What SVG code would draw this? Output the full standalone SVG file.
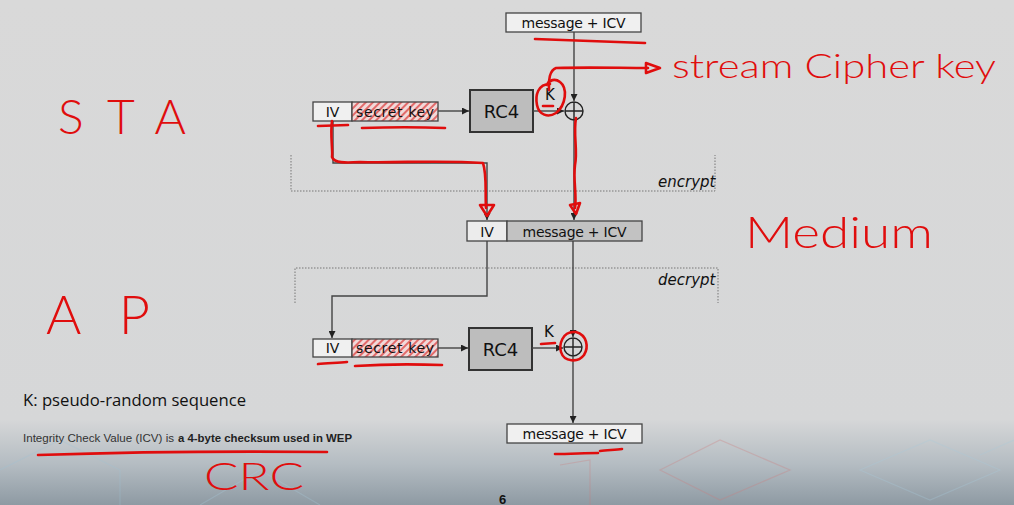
<svg xmlns="http://www.w3.org/2000/svg" width="1014" height="505" viewBox="0 0 1014 505">
<defs>
<linearGradient id="bg" x1="0" y1="0" x2="0" y2="1">
<stop offset="0" stop-color="#d9d9d9"/>
<stop offset="0.83" stop-color="#d6d7d8"/>
<stop offset="0.92" stop-color="#b4bcc2"/>
<stop offset="1" stop-color="#8e9aa3"/>
</linearGradient>
<pattern id="hatch" width="5" height="5" patternUnits="userSpaceOnUse" patternTransform="rotate(45)">
<rect width="5" height="5" fill="#f1d9d9"/>
<rect width="2" height="5" fill="#e26a6a"/>
</pattern>
<marker id="ah" viewBox="0 0 8 8" refX="8" refY="4" markerWidth="7" markerHeight="7" markerUnits="userSpaceOnUse" orient="auto">
<path d="M0,0 L8,4 L0,8 z" fill="#222"/>
</marker>
<style>
.box{stroke:#444;stroke-width:1.3}
.lbl{font-family:"Comic Sans MS","DejaVu Sans",sans-serif;font-size:14px;fill:#111;text-anchor:middle}
.rc4{font-family:"Comic Sans MS","DejaVu Sans",sans-serif;font-size:18px;fill:#111;text-anchor:middle}
.conn{fill:none;stroke:#444;stroke-width:1.4}
.dot{fill:none;stroke:#777;stroke-width:1;stroke-dasharray:1.5 1.5}
.ital{font-family:"Comic Sans MS","DejaVu Sans",sans-serif;font-style:italic;font-size:15px;fill:#111}
.pen{fill:none;stroke:#e00d0d;stroke-width:2.6;stroke-linecap:round;stroke-linejoin:round}
.hand{font-family:Lato,"Open Sans",sans-serif;font-weight:300;fill:#e00d0d}
</style>
</defs>
<rect width="1014" height="505" fill="url(#bg)"/>
<g id="background-deco" opacity="0.3" fill="none" stroke-width="1.2">
<path d="M0,470 L60,440 L120,470 L120,505" stroke="#9fc3d6"/>
<path d="M660,470 L720,440 L790,470 L720,500 z" stroke="#d07a7a"/>
<path d="M860,470 L930,440 L1000,470 L930,500 z" stroke="#a9cbdc"/>
<path d="M980,455 L1014,440" stroke="#a9cbdc"/>
<path d="M200,505 L260,470 L320,505" stroke="#a9cbdc"/>
<path d="M560,465 L590,460 L590,505" stroke="#d07a7a"/>
</g>

<g id="top-message">
<rect class="box" x="506" y="13" width="135" height="19" fill="#f0f0f0"/>
<text class="lbl" x="573.5" y="27.5" textLength="104">message + ICV</text>
</g>
<g id="sta-key">
<rect class="box" x="313" y="102" width="39" height="19" fill="#f0f0f0"/>
<text class="lbl" x="332.5" y="116.5">IV</text>
<rect class="box" x="352" y="102" width="86" height="19" fill="url(#hatch)"/>
<text class="lbl" x="395" y="116.5" textLength="78">secret key</text>
</g>
<g id="sta-rc4">
<rect x="470" y="90" width="63" height="42" fill="#bdbdbd" stroke="#333" stroke-width="2"/>
<text class="rc4" x="501.5" y="118">RC4</text>
</g>
<g id="sta-xor">
<circle cx="574" cy="111" r="9" fill="none" stroke="#222" stroke-width="1.4"/>
<path d="M565,111 H583 M574,102 V120" stroke="#222" stroke-width="1.4"/>
<text class="lbl" x="550" y="100" style="font-size:15px">K</text>
</g>
<g id="medium-frame">
<rect class="box" x="467" y="221" width="40" height="20" fill="#ececec"/>
<text class="lbl" x="487" y="236.5">IV</text>
<rect class="box" x="507" y="221" width="135" height="20" fill="#c2c2c2"/>
<text class="lbl" x="574.5" y="236.5" textLength="104">message + ICV</text>
</g>
<g id="ap-key">
<rect class="box" x="313" y="339" width="39" height="18" fill="#f0f0f0"/>
<text class="lbl" x="332.5" y="353">IV</text>
<rect class="box" x="352" y="339" width="86" height="18" fill="url(#hatch)"/>
<text class="lbl" x="395" y="353" textLength="78">secret key</text>
</g>
<g id="ap-rc4">
<rect x="469" y="328" width="63" height="42" fill="#bdbdbd" stroke="#333" stroke-width="2"/>
<text class="rc4" x="500.5" y="356">RC4</text>
</g>
<g id="ap-xor">
<circle cx="573" cy="347" r="9" fill="none" stroke="#222" stroke-width="1.4"/>
<path d="M564,347 H582 M573,338 V356" stroke="#222" stroke-width="1.4"/>
<text class="lbl" x="549" y="337" style="font-size:15px">K</text>
</g>
<g id="bottom-message">
<rect class="box" x="507" y="424" width="135" height="19" fill="#f0f0f0"/>
<text class="lbl" x="574.5" y="438.5" textLength="104">message + ICV</text>
</g>

<g id="regions">
<path class="dot" d="M291,155 V191 H715 V155"/>
<text class="ital" x="658" y="187">encrypt</text>
<path class="dot" d="M295,303 V268 H718 V303"/>
<text class="ital" x="658" y="285">decrypt</text>
</g>

<g id="connectors">
<path class="conn" d="M574,32 V101" marker-end="url(#ah)"/>
<path class="conn" d="M438,111 H469" marker-end="url(#ah)"/>
<path class="conn" d="M533,111 H564" marker-end="url(#ah)"/>
<path class="conn" d="M574,120 V220" marker-end="url(#ah)"/>
<path class="conn" d="M333,121 V163 H487 V220" marker-end="url(#ah)"/>
<path class="conn" d="M487,241 V296 H332 V338" marker-end="url(#ah)"/>
<path class="conn" d="M573,241 V337" marker-end="url(#ah)"/>
<path class="conn" d="M438,348 H468" marker-end="url(#ah)"/>
<path class="conn" d="M532,348 H563" marker-end="url(#ah)"/>
<path class="conn" d="M573,356 V423" marker-end="url(#ah)"/>
</g>

<g id="notes">
<text x="23" y="406" font-family="'Open Sans',sans-serif" font-size="16.5" fill="#111" textLength="223" lengthAdjust="spacingAndGlyphs">K: pseudo-random sequence</text>
<text x="23" y="442" font-family="'Liberation Sans',Arial,sans-serif" font-size="11" fill="#333" textLength="151" lengthAdjust="spacingAndGlyphs">Integrity Check Value (ICV) is</text>
<text x="178" y="442" font-family="'Liberation Sans',Arial,sans-serif" font-size="11" font-weight="bold" fill="#222" textLength="174" lengthAdjust="spacingAndGlyphs">a 4-byte checksum used in WEP</text>
<text x="499" y="504" font-family="'Liberation Sans',Arial,sans-serif" font-size="13" font-weight="bold" fill="#111">6</text>
</g>

<g id="annotations">
<text class="hand" x="58" y="134" font-size="48" textLength="128" lengthAdjust="spacing">STA</text>
<text class="hand" x="46" y="334" font-size="54" textLength="104" lengthAdjust="spacing">AP</text>
<text class="hand" x="745" y="248" font-size="44" textLength="188" lengthAdjust="spacingAndGlyphs">Medium</text>
<text class="hand" x="672" y="78" font-size="34" textLength="324" lengthAdjust="spacingAndGlyphs">stream Cipher key</text>
<text class="hand" x="204" y="490" font-size="38" textLength="100" lengthAdjust="spacingAndGlyphs">CRC</text>

<path class="pen" d="M535,39 C570,40 610,42 645,43"/>
<path class="pen" d="M549,90 C548,80 550,70 556,68 C590,67 620,68 648,68"/>
<path class="pen" d="M646,63 L660,68 L646,73 z" fill="#e00d0d"/>
<path class="pen" d="M550,84 C538,84 535,95 537,105 C539,115 548,118 556,113 C566,105 568,88 560,82 C555,78 549,80 547,85"/>
<path class="pen" d="M543,106 L553,106"/>
<path class="pen" d="M318,126 L348,125"/>
<path class="pen" d="M362,128 C390,127 420,127 445,128"/>
<path class="pen" d="M332,121 C330,135 333,150 332,157 C334,163 345,163 360,162 C400,163 440,160 483,163 C487,175 485,190 486,208"/>
<path class="pen" d="M480,205 L494,205 L487,216 z"/>
<path class="pen" d="M576,118 C573,135 578,150 575,165 C573,180 577,195 575,208"/>
<path class="pen" d="M570,205 L580,203 L576,214 z"/>
<path class="pen" d="M318,364 C328,363 338,363 347,362"/>
<path class="pen" d="M355,366 C385,364 415,364 442,365"/>
<path class="pen" d="M541,344 L555,343"/>
<path class="pen" d="M575,332 C562,331 559,345 561,352 C564,362 578,363 584,355 C589,347 587,335 576,332"/>
<path class="pen" d="M555,454 C570,454 585,453 598,453 M600,451 C607,450 615,450 622,449"/>
<path class="pen" d="M38,455 C130,452 230,451 327,452"/>
</g>
</svg>
